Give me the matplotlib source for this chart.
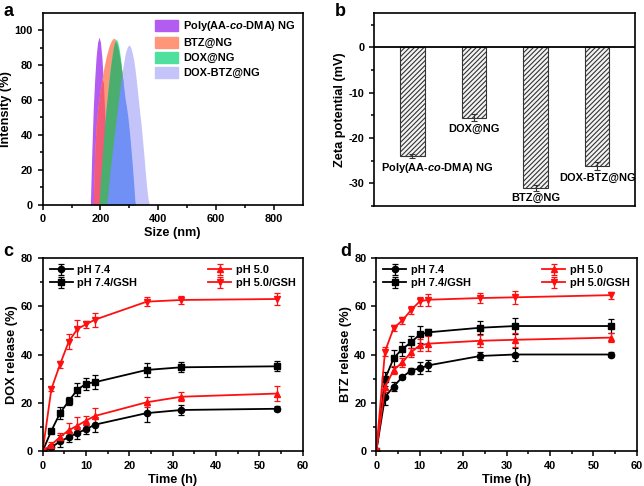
import numpy as np
import matplotlib
matplotlib.use("Agg")
import matplotlib.pyplot as plt
from matplotlib.patches import Patch

plt.rcParams['font.family'] = ['Liberation Sans', 'DejaVu Sans']
plt.rcParams['font.weight'] = 'bold'
plt.rcParams['axes.labelweight'] = 'bold'
plt.rcParams['axes.unicode_minus'] = False
plt.rcParams['mathtext.fontset'] = 'custom'
plt.rcParams['mathtext.it'] = 'Liberation Sans:italic:bold'
plt.rcParams['mathtext.rm'] = 'Liberation Sans:bold'
plt.rcParams['hatch.linewidth'] = 0.8
plt.rcParams['axes.linewidth'] = 1.2

# ---- panel a: DLS size distribution (shared size bins)
sizes = [160, 165, 170, 175, 180, 185, 190, 195, 200, 205, 210, 215, 220, 225, 230,
         235, 240, 245, 250, 255, 260, 265, 270, 275, 280, 285, 290, 295, 300, 305,
         310, 315, 320, 325, 330, 335, 340, 345, 350, 355, 360, 365, 370]
int_ng = [0, 0, 30, 55, 72, 85, 93, 96, 93, 84, 70, 50, 22, 0, 0,
          0, 0, 0, 0, 0, 0, 0, 0, 0, 0, 0, 0, 0, 0, 0,
          0, 0, 0, 0, 0, 0, 0, 0, 0, 0, 0, 0, 0]
int_btz = [0, 0, 0, 0, 30, 45, 54, 61, 67, 72, 77, 81, 85, 88, 91,
           93, 94.5, 95.5, 95, 93, 90, 86, 81, 75, 68, 61, 56, 50, 42, 33,
           23, 12, 0, 0, 0, 0, 0, 0, 0, 0, 0, 0, 0]
int_dox = [0, 0, 0, 0, 0, 0, 0, 0, 15, 25, 36, 47, 56, 64, 72,
           79, 85, 90, 93.5, 95, 93, 89, 83, 75, 66, 58, 50, 42, 33, 24,
           14, 5, 0, 0, 0, 0, 0, 0, 0, 0, 0, 0, 0]
int_dox_btz = [0, 0, 0, 0, 0, 0, 0, 0, 0, 0, 0, 0, 0, 5, 14,
               22, 29, 36, 43, 50, 57, 64, 70, 76, 81, 86, 89, 91, 91.5, 90,
               87, 83, 77, 70, 62, 54, 47, 38, 29, 19, 10, 3, 0]
dls_labels = ['Poly(AA-$\\mathit{co}$-DMA) NG', 'BTZ@NG', 'DOX@NG', 'DOX-BTZ@NG']

# ---- panel b: zeta potential
zeta_names = ['Poly(AA-$\\mathit{co}$-DMA) NG', 'DOX@NG', 'BTZ@NG', 'DOX-BTZ@NG']
zeta = [-24.0, -15.5, -31.0, -26.2]
zeta_err = [0.5, 0.7, 0.6, 0.8]

# ---- panels c, d: release
t = [0, 2, 4, 6, 8, 10, 12, 24, 32, 54]
dox_74 = [0, 1.5, 4.0, 5.7, 7.5, 9.0, 10.9, 15.7, 17.0, 17.5]
dox_74_err = [0, 0.8, 2.5, 2.0, 2.5, 1.8, 3.0, 3.5, 2.2, 1.0]
dox_74g = [0, 8.4, 15.7, 20.7, 25.4, 27.9, 28.5, 33.6, 34.7, 35.1]
dox_74g_err = [0, 0.8, 2.5, 1.8, 2.8, 2.5, 2.8, 3.0, 2.0, 2.0]
dox_50 = [0, 2.6, 5.8, 8.6, 10.5, 12.6, 14.5, 20.2, 22.5, 23.8]
dox_50_err = [0, 1.0, 1.8, 3.0, 3.5, 1.8, 3.2, 2.0, 1.8, 3.2]
dox_50g = [0, 25.7, 35.9, 45.3, 50.6, 52.5, 54.4, 61.9, 62.6, 63.0]
dox_50g_err = [0, 1.0, 1.5, 3.0, 3.5, 1.5, 3.0, 2.0, 1.8, 2.5]

btz_74 = [0, 22.4, 26.7, 30.7, 33.3, 34.3, 35.5, 39.4, 40.0, 40.0]
btz_74_err = [0, 3.5, 2.0, 0.8, 1.2, 2.5, 2.2, 1.5, 2.5, 1.2]
btz_74g = [0, 29.8, 38.5, 42.3, 45.0, 48.3, 49.2, 51.1, 51.8, 51.8]
btz_74g_err = [0, 3.0, 3.5, 3.0, 2.5, 3.5, 1.2, 2.8, 3.5, 2.8]
btz_50 = [0, 26.4, 33.6, 36.7, 40.9, 43.8, 44.5, 45.7, 46.1, 47.0]
btz_50_err = [0, 2.0, 1.5, 1.8, 2.0, 2.5, 3.0, 2.5, 3.0, 2.0]
btz_50g = [0, 41.2, 51.0, 54.1, 58.4, 62.0, 62.7, 63.4, 63.7, 64.6]
btz_50g_err = [0, 2.0, 1.2, 1.5, 1.5, 2.0, 2.5, 2.0, 2.8, 1.5]

W, H = 644, 486
fig = plt.figure(figsize=(6.44, 4.86), dpi=100)


def box(l, r, t_, b):
    return [l / W, 1 - b / H, (r - l) / W, (b - t_) / H]


def style(ax):
    ax.tick_params(which='both', direction='out', labelsize=7.9, width=1.1)
    ax.tick_params(which='major', length=3.5)
    ax.tick_params(which='minor', length=2)
    for lab in ax.get_xticklabels() + ax.get_yticklabels():
        lab.set_fontweight('bold')


FS = 7.9
LFS = 9.2

# ---------------- a
ax = fig.add_axes(box(42.7, 302.7, 12.7, 204.7))
c_ng, c_btz, c_dox, c_db = '#b25cf2', '#ff967a', '#4fe0a0', '#c4c4fa'
ax.fill_between(sizes, int_ng, color=c_ng, lw=0)
ax.fill_between(sizes, int_btz, color=c_btz, lw=0)
ax.fill_between(sizes, int_dox, color=c_dox, lw=0)
ax.fill_between(sizes, int_dox_btz, color=c_db, lw=0)
a_ng, a_btz, a_dox, a_db = (np.array(v) for v in (int_ng, int_btz, int_dox, int_dox_btz))
ax.fill_between(sizes, np.minimum(a_ng, a_btz), color='#f25a78', lw=0)
ax.fill_between(sizes, np.minimum(a_btz, a_dox), color='#4cae6e', lw=0)
ax.fill_between(sizes, np.minimum(a_db, np.maximum(a_btz, a_dox)), color='#7090f5', lw=0)
ax.set_xlim(0, 900)
ax.set_ylim(0, 110)
ax.set_xticks([0, 200, 400, 600, 800])
ax.set_xticks([100, 300, 500, 700], minor=True)
ax.set_yticks([0, 20, 40, 60, 80, 100])
ax.set_yticks([10, 30, 50, 70, 90], minor=True)
ax.set_xlabel('Size (nm)', fontsize=LFS, labelpad=2)
ax.set_ylabel('Intensity (%)', fontsize=LFS, labelpad=2)
style(ax)
handles = [Patch(color=c) for c in (c_ng, c_btz, c_dox, c_db)]
ax.legend(handles, dls_labels, loc='upper right', frameon=False, fontsize=FS,
          handlelength=2.1, handleheight=1.1, labelspacing=0.35, handletextpad=0.5,
          borderaxespad=0.2)

# ---------------- b
ax = fig.add_axes(box(374.3, 635.3, 13.3, 206))
xb = [1, 2, 3, 4]
ax.bar(xb, zeta, width=0.4, facecolor='#f4f4f4', edgecolor='#333333', hatch='///////',
       lw=0.8, yerr=zeta_err, error_kw=dict(ecolor='#333333', elinewidth=0.8, capsize=2.5, capthick=0.8))
ax.axhline(0, color='k', lw=1.3)
ax.set_xlim(0.38, 4.62)
ax.set_ylim(-35, 7.5)
ax.set_xticks([])
ax.set_yticks([-30, -20, -10, 0])
ax.set_yticks([-35, -25, -15, -5, 5], minor=True)
ax.set_ylabel('Zeta potential (mV)', fontsize=LFS, labelpad=2)
style(ax)
for i, (x, v, e, name) in enumerate(zip(xb, zeta, zeta_err, zeta_names)):
    if i == 0:
        ax.annotate(name, (x, v - e), xytext=(-23, -2), textcoords='offset points',
                    ha='left', va='top', fontsize=FS, fontweight='bold')
    else:
        ax.annotate(name, (x, v - e), xytext=(0, -2), textcoords='offset points',
                    ha='center', va='top', fontsize=FS, fontweight='bold')


# ---------------- c, d
def release(ax, series, ylabel):
    kw = dict(lw=1.3, markersize=4.5, capsize=2.5, elinewidth=0.9, capthick=0.9)
    hs = []
    for y, e, col, mk, lab in series:
        h = ax.errorbar(t, y, yerr=e, color=col, marker=mk, label=lab, **kw)
        hs.append(h)
    ax.set_xlim(0, 60)
    ax.set_ylim(0, 80)
    ax.set_xticks(range(0, 61, 10))
    ax.set_xticks(range(5, 60, 10), minor=True)
    ax.set_yticks(range(0, 81, 20))
    ax.set_yticks(range(10, 80, 20), minor=True)
    ax.set_xlabel('Time (h)', fontsize=LFS, labelpad=2)
    ax.set_ylabel(ylabel, fontsize=LFS, labelpad=2)
    style(ax)
    lkw = dict(frameon=False, fontsize=FS, handlelength=2.1, labelspacing=0.25,
               handletextpad=0.4, borderaxespad=0.25)
    leg1 = ax.legend(hs[:2], [s[4] for s in series[:2]], loc='upper left', **lkw)
    ax.add_artist(leg1)
    ax.legend(hs[2:], [s[4] for s in series[2:]], loc='upper right', **lkw)


red = '#ff1010'
ax = fig.add_axes(box(42.7, 302.7, 258, 451))
release(ax, [(dox_74, dox_74_err, 'k', 'o', 'pH 7.4'),
             (dox_74g, dox_74g_err, 'k', 's', 'pH 7.4/GSH'),
             (dox_50, dox_50_err, red, '^', 'pH 5.0'),
             (dox_50g, dox_50g_err, red, 'v', 'pH 5.0/GSH')], 'DOX release (%)')

ax = fig.add_axes(box(376.3, 636.7, 258, 451))
release(ax, [(btz_74, btz_74_err, 'k', 'o', 'pH 7.4'),
             (btz_74g, btz_74g_err, 'k', 's', 'pH 7.4/GSH'),
             (btz_50, btz_50_err, red, '^', 'pH 5.0'),
             (btz_50g, btz_50g_err, red, 'v', 'pH 5.0/GSH')], 'BTZ release (%)')

# panel letters
for txt, x, y in [('a', 4, 3), ('b', 335, 3), ('c', 3, 243), ('d', 340, 243)]:
    fig.text(x / W, 1 - y / H, txt, fontsize=13, fontweight='bold', va='top', ha='left')

fig.savefig('out.png', dpi=100)
